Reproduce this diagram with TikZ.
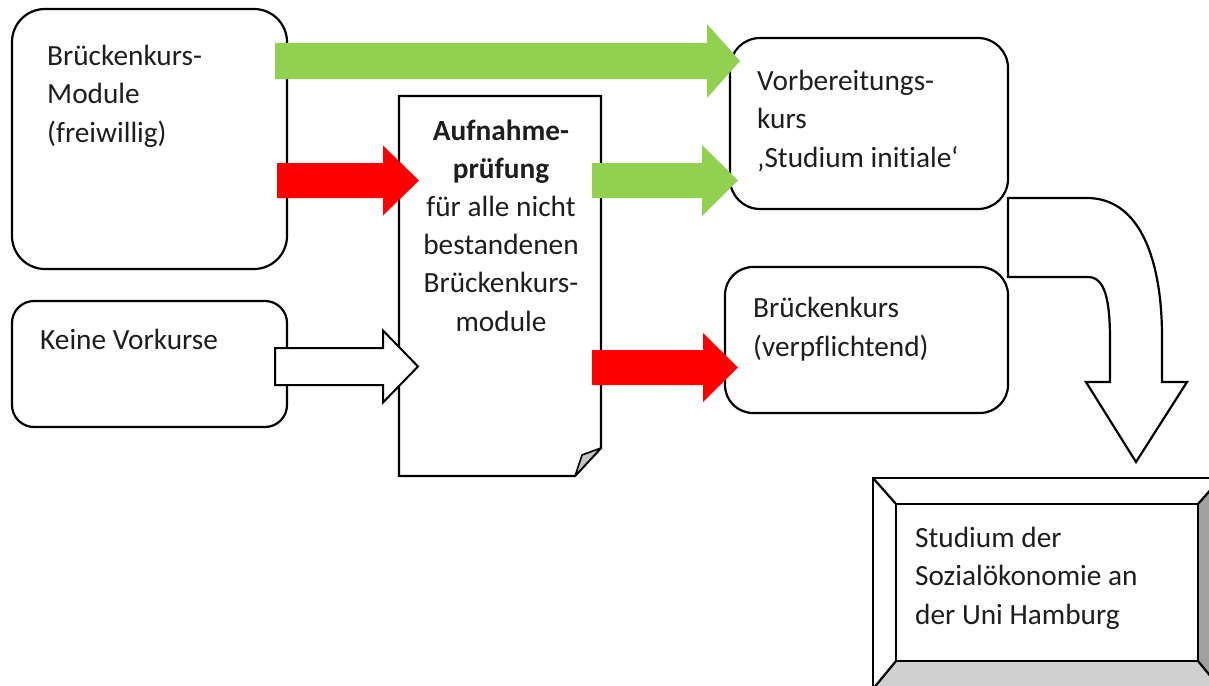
\documentclass[tikz,border=0pt]{standalone}
\usepackage{fontspec}
\setmainfont{Carlito}[Ligatures=NoCommon]
\definecolor{txtcol}{HTML}{1E1E1E}
\definecolor{agreen}{HTML}{92D050}
\definecolor{ared}{HTML}{FF0000}
\definecolor{bevdark}{HTML}{A0A0A0}
\definecolor{bevlight}{HTML}{D0D0D0}
\definecolor{foldgray}{HTML}{C4C4C4}
\newcommand\blkarrow[7]{% style, x0, xbase, xtip, ycenter, shaft half, head half
  \path[#1] (#2,#5-#6) -- (#3,#5-#6) -- (#3,#5-#7) -- (#4,#5) -- (#3,#5+#7) -- (#3,#5+#6) -- (#2,#5+#6) -- cycle;}
\begin{document}
\begin{tikzpicture}[x=1pt,y=-1pt,
  box/.style={draw=black,line width=2.2pt,fill=white,rounded corners=#1,inner sep=0pt},
  outl/.style={draw=black,line width=2.2pt,line join=miter},
  txt/.style={inner sep=0pt,anchor=base west,align=left,text=txtcol,font=\fontsize{29.3}{38.5}\selectfont},
  ctxt/.style={inner sep=0pt,anchor=base,align=center,text=txtcol,font=\fontsize{29.3}{38.2}\selectfont},
  greenarrow/.style={fill=agreen},
  redarrow/.style={fill=ared},
  whitearrow/.style={fill=white,draw=black,line width=2pt,line join=miter}]
\useasboundingbox (0,0) rectangle (1209,685);
\clip (0,0) rectangle (1209,685);
\fill[white] (0,0) rectangle (1209,685);
% boxes
\node[box=33pt, minimum width=275pt, minimum height=260pt] (bkm) at (149.5,139) {};
\node[box=22pt, minimum width=275pt, minimum height=126pt] (kv) at (149.5,364) {};
\node[box=30pt, minimum width=278pt, minimum height=171pt] (vk) at (869,123.5) {};
\node[box=28pt, minimum width=283pt, minimum height=146pt] (bk) at (866.5,340) {};
% document shape
\path[outl,fill=white] (399,96) -- (601,96) -- (601,448) -- (575,476) -- (399,476) -- cycle;
\path[draw=black,line width=1.6pt,fill=foldgray,line join=round] (575,476) -- (582,455) -- (601,448) -- cycle;
% bevel box
\path[fill=white] (873,478) -- (1221,478) -- (1198,504) -- (896,504) -- cycle;
\path[fill=white] (873,478) -- (896,504) -- (896,661) -- (873,689) -- cycle;
\path[fill=bevdark] (1221,478) -- (1198,504) -- (1198,661) -- (1221,689) -- cycle;
\path[fill=bevlight] (873,689) -- (896,661) -- (1198,661) -- (1221,689) -- cycle;
\path[outl] (873,478) rectangle (1221,689);
\path[outl] (896,504) rectangle (1198,661);
\path[outl] (873,478) -- (896,504) (1221,478) -- (1198,504) (873,689) -- (896,661) (1221,689) -- (1198,661);
% texts (anchored at the baseline of their last line)
\node[txt] (tbkm) at (47,142) {Brückenkurs-\\Module\\(freiwillig)};
\node[txt] (tkv) at (40,349) {Keine Vorkurse};
\node[ctxt] (tdoc) at (501,331) {\textbf{Aufnahme-}\\\textbf{prüfung}\\für alle nicht\\bestandenen\\Brückenkurs-\\module};
\node[txt] (tvk) at (757,167) {Vorbereitungs-\\kurs\\‚Studium initiale‘};
\node[txt] (tbk) at (753,356) {Brückenkurs\\(verpflichtend)};
\node[txt] (tstud) at (915,624) {Studium der\\Sozialökonomie an\\der Uni Hamburg};
% block arrows
\blkarrow{greenarrow}{275}{707}{740}{61}{18}{37}
\blkarrow{redarrow}{277}{383}{419}{180.5}{17.5}{35}
\blkarrow{whitearrow}{275}{383}{418}{366.5}{18.5}{36}
\blkarrow{greenarrow}{592}{702}{738}{180.5}{17.5}{35.5}
\blkarrow{redarrow}{592}{703}{738}{367.5}{17.5}{34.5}
% U-turn arrow
\path[outl,fill=white] (1008,198) -- (1087,198) .. controls (1140,198) and (1162,260) .. (1162,337) -- (1162,382) -- (1187,382) -- (1136,462) -- (1086,382) -- (1110,382) -- (1110,340) .. controls (1110,300) and (1105,277) .. (1088,277) -- (1008,277) -- cycle;
\end{tikzpicture}
\end{document}
